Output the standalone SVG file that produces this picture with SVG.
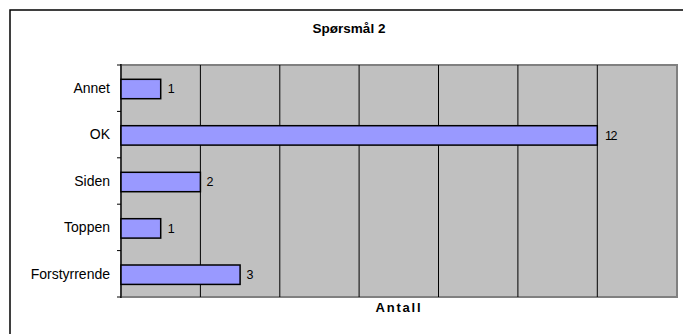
<svg xmlns="http://www.w3.org/2000/svg" width="683" height="334" viewBox="0 0 683 334">
<style>
  .cat { font-family: "Liberation Sans", Arial, sans-serif; font-size: 14px; fill: #000; text-anchor: end; }
  .val { font-family: "Liberation Sans", Arial, sans-serif; font-size: 12.5px; fill: #000; }
  .title { font-family: "Liberation Sans", Arial, sans-serif; font-size: 13.5px; font-weight: bold; fill: #000; text-anchor: middle; }
  .axt { font-family: "Liberation Sans", Arial, sans-serif; font-size: 13px; font-weight: bold; fill: #000; text-anchor: middle; letter-spacing: 1.8px; }
  .bar { fill: #9999FF; stroke: #000; stroke-width: 1.5; }
  .grid { stroke: #000; stroke-width: 1; }
  .tick { stroke: #000; stroke-width: 1; }
</style>
<rect x="0" y="0" width="683" height="334" fill="#fff"/>
<rect id="frame" x="10" y="10" width="680" height="330" fill="#fff" stroke="#000" stroke-width="1.5"/>
<text id="title" class="title" x="349" y="33.3">Spørsmål 2</text>
<g id="plot">
  <rect x="121" y="65" width="556" height="232" fill="#C0C0C0" stroke="#808080" stroke-width="2"/>
  <line class="grid" x1="200.4" y1="65" x2="200.4" y2="297"/>
  <line class="grid" x1="279.8" y1="65" x2="279.8" y2="297"/>
  <line class="grid" x1="359.1" y1="65" x2="359.1" y2="297"/>
  <line class="grid" x1="438.5" y1="65" x2="438.5" y2="297"/>
  <line class="grid" x1="517.9" y1="65" x2="517.9" y2="297"/>
  <line class="grid" x1="597.3" y1="65" x2="597.3" y2="297"/>
  <line x1="121" y1="64" x2="121" y2="298" stroke="#000" stroke-width="1.2"/>
  <line class="tick" x1="117" y1="65" x2="121" y2="65"/>
  <line class="tick" x1="117" y1="111.4" x2="121" y2="111.4"/>
  <line class="tick" x1="117" y1="157.8" x2="121" y2="157.8"/>
  <line class="tick" x1="117" y1="204.2" x2="121" y2="204.2"/>
  <line class="tick" x1="117" y1="250.6" x2="121" y2="250.6"/>
  <line class="tick" x1="117" y1="297" x2="121" y2="297"/>
</g>
<g id="bar-annet">
  <rect class="bar" x="121" y="79.3" width="39.7" height="19.4"/>
  <text class="cat" x="110" y="92.5">Annet</text>
  <text class="val" x="167.7" y="93.3">1</text>
</g>
<g id="bar-ok">
  <rect class="bar" x="121" y="125.7" width="476.3" height="19.4"/>
  <text class="cat" x="110" y="139">OK</text>
  <text class="val" x="605" y="139.5" letter-spacing="-1.5">12</text>
</g>
<g id="bar-siden">
  <rect class="bar" x="121" y="172.3" width="79.4" height="19.4"/>
  <text class="cat" x="110" y="185.7">Siden</text>
  <text class="val" x="206.5" y="186.3">2</text>
</g>
<g id="bar-toppen">
  <rect class="bar" x="121" y="218.7" width="39.7" height="19.4"/>
  <text class="cat" x="110" y="232.2">Toppen</text>
  <text class="val" x="167.7" y="232.7">1</text>
</g>
<g id="bar-forstyrrende">
  <rect class="bar" x="121" y="265" width="119.1" height="19.4"/>
  <text class="cat" x="110" y="278.6">Forstyrrende</text>
  <text class="val" x="246.5" y="279">3</text>
</g>
<g id="connectors"></g>
<text id="axis-title" class="axt" x="399" y="312.3">Antall</text>
</svg>
